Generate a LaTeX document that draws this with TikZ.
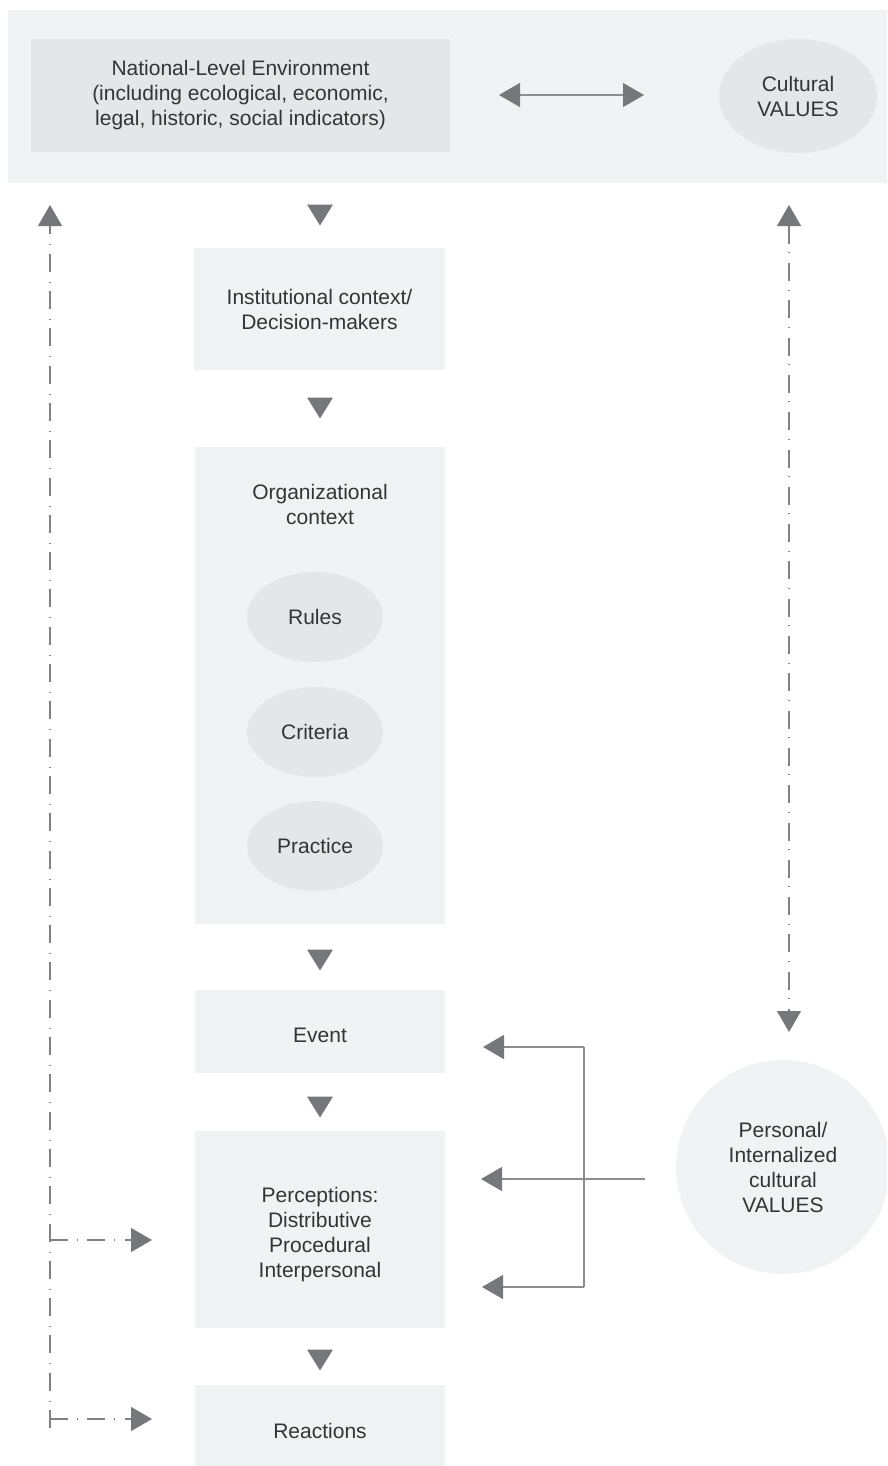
\documentclass[tikz,border=0pt]{standalone}
\usepackage{fontspec}
\setmainfont{Liberation Sans}
\usetikzlibrary{arrows.meta,shapes.geometric}
\definecolor{bandgray}{HTML}{F1F2F4}
\definecolor{boxgray}{HTML}{F1F2F4}
\definecolor{darkbox}{HTML}{E5E6E8}
\definecolor{tipgray}{HTML}{76777B}
\definecolor{linegray}{HTML}{8C8D90}
\definecolor{dashgray}{HTML}{808185}
\definecolor{txt}{HTML}{343434}
\tikzset{
  bigtri/.tip={Triangle[length=21pt,width=24pt,fill=tipgray,color=tipgray]},
  lbl/.style={font=\fontsize{21}{25}\selectfont, text=txt, align=center},
  box/.style={lbl, rectangle, fill=boxgray, inner sep=0pt, outer sep=0pt},
  darkrect/.style={box, fill=darkbox},
  oval/.style={lbl, ellipse, fill=darkbox, inner sep=0pt, outer sep=0pt},
  conn/.style={draw=linegray, line width=1.3pt},
  dashconn/.style={draw=dashgray, line width=1.2pt,
    dash pattern=on 18pt off 8.5pt on 0.8pt off 10pt},
  downtri/.pic={\fill[tipgray] (-13,-10.5) -- (13,-10.5) -- (0,10.5) -- cycle;}
}
\begin{document}
\begin{tikzpicture}[x=1pt,y=-1pt]
\useasboundingbox (0,0) rectangle (887,1466);
\begin{scope}
\clip (0,0) rectangle (887,1466);

% national band
\fill[bandgray] (8,10) rectangle (890,183);
\node[darkrect, minimum width=419, minimum height=113] (nat) at (240.5,95.5)
  {National-Level Environment\\(including ecological, economic,\\legal, historic, social indicators)};
\node[oval, minimum width=158, minimum height=114] (cult) at (798,96) {Cultural\\VALUES};
\coordinate (natR) at (499,95);
\coordinate (cultL) at (644,95);
\draw[conn, bigtri-bigtri] (natR) -- (cultL);

% main chain
\node[box, minimum width=251, minimum height=122] (inst) at (319.5,309)
  {Institutional context/\\Decision-makers};
\node[box, minimum width=250, minimum height=477] (org) at (320,685.5) {};
\node[lbl] (orglbl) at (320,504) {Organizational\\context};
\node[oval, minimum width=136, minimum height=90] (rules) at (315,617) {Rules};
\node[oval, minimum width=136, minimum height=90] (crit) at (315,732) {Criteria};
\node[oval, minimum width=136, minimum height=90] (prac) at (315,846) {Practice};
\node[box, minimum width=250, minimum height=83] (event) at (320,1031.5) {};
\node[lbl] (eventlbl) at (320,1035.5) {Event};
\node[box, minimum width=250, minimum height=197] (perc) at (320,1229.5) {};
\node[lbl] (perclbl) at (320,1235)
  {Perceptions:\\Distributive\\Procedural\\Interpersonal};
\node[box, minimum width=250, minimum height=81] (react) at (320,1425.5) {};
\node[lbl] (reactlbl) at (320,1430.5) {Reactions};

% flow markers between the stages
\pic at (320,215) {downtri};
\pic at (320,408) {downtri};
\pic at (320,960) {downtri};
\pic at (320,1107) {downtri};
\pic at (320,1360) {downtri};

% personal values
\node[box, circle, minimum size=214] (pers) at (783,1167)
  {Personal/\\Internalized\\cultural\\VALUES};
\coordinate (psrc) at (645,1179);
\coordinate (brkT) at (584,1047);
\coordinate (brkB) at (584,1287);
\coordinate (evIn) at (483,1047);
\coordinate (pcIn) at (481,1179);
\coordinate (rcIn) at (482,1287);
\draw[conn] (brkT) -- (brkB);
\draw[conn, -bigtri] (psrc) -- (pcIn);
\draw[conn, -bigtri] (brkT) -- (evIn);
\draw[conn, -bigtri] (brkB) -- (rcIn);

% feedback to cultural values
\coordinate (cultUp) at (789,205);
\coordinate (persDn) at (789,1032);
\draw[dashconn, bigtri-bigtri] (cultUp) -- (persDn);

% feedback loop on the left
\coordinate (natUp) at (50,205);
\coordinate (loopBot) at (50,1428);
\coordinate (percL) at (50,1240);
\coordinate (reactL) at (50,1419);
\coordinate (percTip) at (152,1240);
\coordinate (reactTip) at (152,1419);
\draw[dashconn, -bigtri] (loopBot) -- (natUp);
\draw[dashconn, -bigtri] (percL) -- (percTip);
\draw[dashconn, -bigtri] (reactL) -- (reactTip);
\end{scope}
\end{tikzpicture}
\end{document}
